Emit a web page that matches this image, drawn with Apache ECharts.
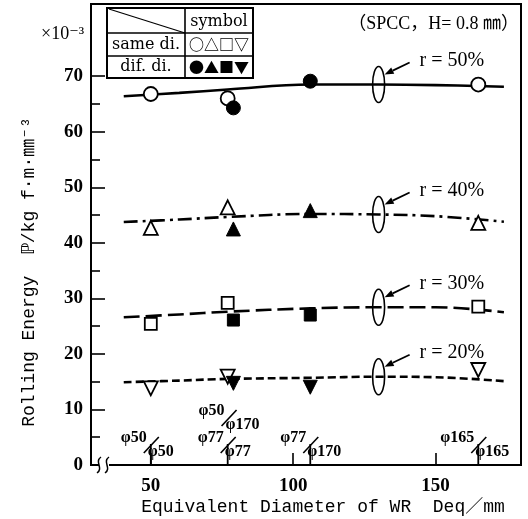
<!DOCTYPE html>
<html><head><meta charset="utf-8">
<script src="https://cdn.jsdelivr.net/npm/echarts@6/dist/echarts.min.js"></script>
<style>html,body{margin:0;padding:0;background:#fff}#c{width:528px;height:519px}</style>
</head><body><div id="c"></div>
<script>
// ---- data ----
const xTickValues = [50, 100, 150];
const yTickValues = [0, 10, 20, 30, 40, 50, 60, 70];
const yMinorTickValues = [5, 15, 25, 35, 45, 55, 65];

const deqSame = [50, 77, 165];
const deqDif = [79, 106];

const r50Same = [66.8, 66.0, 68.5];
const r50Dif = [64.3, 69.1];
const r40Same = [42.7, 46.4, 43.6];
const r40Dif = [42.5, 45.8];
const r30Same = [25.4, 29.2, 28.5];
const r30Dif = [26.1, 27.0];
const r20Same = [13.8, 15.9, 17.1];
const r20Dif = [14.7, 14.0];

const lineDeq = [40.5, 60, 77, 106, 130, 150, 174];
const r50Line = [66.4, 67.0, 67.6, 68.5, 68.5, 68.4, 68.1];
const r40Line = [43.75, 44.2, 44.65, 45.2, 45.1, 44.8, 43.8];
const r30Line = [26.6, 27.1, 27.6, 28.2, 28.4, 28.4, 27.5];
const r20Line = [14.9, 15.2, 15.5, 15.7, 15.9, 15.8, 15.1];

const rLabels = ['r = 50%', 'r = 40%', 'r = 30%', 'r = 20%'];
const loopDeq = 130;

const diamDeq = [50, 77, 77.3, 106, 165];
const diamUpper = ['φ50', 'φ77', 'φ50', 'φ77', 'φ165'];
const diamLower = ['φ50', 'φ77', 'φ170', 'φ170', 'φ165'];

const legendHeader = 'symbol';
const legendRows = ['same di.', 'dif. di.'];
const legendSymbols = ['○△□▽', '●▲■▼'];

const titleText = '（SPCC，H= 0.8 ㎜）';
const unitText = '×10⁻³';
const xName = 'Equivalent Diameter of WR  Deq／mm';
const yName = 'Rolling Energy  ℙ/kg f·m·㎜⁻³';

// ---- chart ----
const serif = "'Liberation Serif','DejaVu Serif','Noto Sans CJK JP',serif";
const mono = "'Liberation Mono','DejaVu Sans Mono','Noto Sans CJK JP',monospace";

const lineSets = [
  {vals: r50Line, type: 'solid'},
  {vals: r40Line, type: [14, 5, 3, 5]},
  {vals: r30Line, type: [16, 6]},
  {vals: r20Line, type: [8, 4]}
];
const markSets = [
  {same: r50Same, dif: r50Dif, symbol: 'circle', size: 14, rot: 0},
  {same: r40Same, dif: r40Dif, symbol: 'triangle', size: 14, rot: 0},
  {same: r30Same, dif: r30Dif, symbol: 'rect', size: 12, rot: 0},
  {same: r20Same, dif: r20Dif, symbol: 'triangle', size: 14, rot: 180}
];

const series = [];
lineSets.forEach(ls => {
  series.push({
    type: 'line', data: lineDeq.map((x, i) => [x, ls.vals[i]]),
    smooth: 0.4, showSymbol: false, silent: true, z: 2,
    lineStyle: {color: '#000', width: 2.6, type: ls.type}
  });
});
markSets.forEach(ms => {
  series.push({
    type: 'scatter', data: deqSame.map((x, i) => [x, ms.same[i]]),
    symbol: ms.symbol, symbolSize: ms.size, symbolRotate: ms.rot, z: 4,
    itemStyle: {color: '#fff', borderColor: '#000', borderWidth: 1.8, opacity: 1}
  });
  series.push({
    type: 'scatter', data: deqDif.map((x, i) => [x, ms.dif[i]]),
    symbol: ms.symbol, symbolSize: ms.size, symbolRotate: ms.rot, z: 4,
    itemStyle: {color: '#000', borderColor: '#000', borderWidth: 1, opacity: 1}
  });
});

const option = {
  backgroundColor: '#fff',
  animation: false,
  grid: {left: 91, right: 7, top: 4, bottom: 54, show: true, borderColor: '#000', borderWidth: 2,
         containLabel: false, outerBoundsMode: 'none'},
  xAxis: {
    type: 'value', min: 29, max: 180,
    axisLine: {show: true, lineStyle: {color: '#000', width: 2}},
    axisTick: {show: true, inside: true, length: 12, customValues: xTickValues, lineStyle: {color: '#000', width: 1.6}},
    axisLabel: {show: true, customValues: xTickValues, margin: 12, color: '#000',
                fontFamily: serif, fontSize: 19, fontWeight: 'bold'},
    splitLine: {show: false}
  },
  yAxis: [{
    type: 'value', min: 0, max: 83,
    axisLine: {show: true, lineStyle: {color: '#000', width: 2}},
    axisTick: {show: true, inside: true, length: 14, customValues: yTickValues, lineStyle: {color: '#000', width: 1.6}},
    axisLabel: {show: true, customValues: yTickValues, margin: 8, color: '#000',
                fontFamily: serif, fontSize: 19, fontWeight: 'bold'},
    splitLine: {show: false}
  }, {
    type: 'value', min: 0, max: 83, position: 'left',
    axisLine: {show: false},
    axisTick: {show: true, inside: true, length: 9, customValues: yMinorTickValues, lineStyle: {color: '#000', width: 1.6}},
    axisLabel: {show: false},
    splitLine: {show: false}
  }],
  series: series
};

const chart = echarts.init(document.getElementById('c'), null, {renderer: 'canvas'});
chart.setOption(option);

const px = (x, y) => chart.convertToPixel({gridIndex: 0}, [x, y]);
const g = [];
const stroke = (lw) => ({fill: null, stroke: '#000', lineWidth: lw});

// r-line annotations: loop, arrow and label
const loopIdx = lineDeq.indexOf(loopDeq);
lineSets.forEach((ls, i) => {
  const [cx, cy] = px(loopDeq, ls.vals[loopIdx]);
  g.push({type: 'ellipse', shape: {cx: cx, cy: cy, rx: 6, ry: 18}, style: stroke(1.6), z: 10});
  const tail = [cx + 31, cy - 22], tip = [cx + 6, cy - 10];
  const dx = tip[0] - tail[0], dy = tip[1] - tail[1], len = Math.hypot(dx, dy);
  const ux = dx / len, uy = dy / len, nx = -uy, ny = ux;
  const bx = tip[0] - ux * 9, by = tip[1] - uy * 9;
  g.push({type: 'line', shape: {x1: tail[0], y1: tail[1], x2: bx, y2: by}, style: stroke(1.8), z: 10});
  g.push({type: 'polygon', shape: {points: [tip, [bx + nx * 3.5, by + ny * 3.5], [bx - nx * 3.5, by - ny * 3.5]]},
          style: {fill: '#000'}, z: 10});
  g.push({type: 'text', x: cx + 41, y: cy - 24, z: 10,
          style: {text: rLabels[i], fill: '#000', font: "20px " + serif, align: 'left', verticalAlign: 'middle'}});
});

// diameter annotations near the x axis
diamDeq.forEach((d, i) => {
  let level = 0;
  for (let j = 0; j < i; j++) if (Math.abs(diamDeq[j] - d) < 3) level++;
  const [x0, ay] = px(d, 0);
  const base = ay - 27 * level;
  if (level === 0) {
    g.push({type: 'line', shape: {x1: x0, y1: ay, x2: x0, y2: ay - 21}, style: stroke(1.8), z: 10});
  }
  g.push({type: 'line', shape: {x1: x0 - 7, y1: base - 12, x2: x0 + 8, y2: base - 28}, style: stroke(1.6), z: 10});
  g.push({type: 'text', x: x0 - 4, y: base - 27, z: 10,
          style: {text: diamUpper[i], fill: '#000', font: "bold 16px " + serif, align: 'right', verticalAlign: 'middle'}});
  g.push({type: 'text', x: x0 - 3, y: base - 13, z: 10,
          style: {text: diamLower[i], fill: '#000', font: "bold 16px " + serif, align: 'left', verticalAlign: 'middle'}});
});

// axis break mark
{
  const [ax, ay] = px(29, 0);
  g.push({type: 'rect', shape: {x: ax + 8, y: ay - 2, width: 10, height: 4}, style: {fill: '#fff'}, z: 11});
  [ax + 8, ax + 16].forEach(bx => {
    g.push({type: 'bezierCurve', shape: {x1: bx - 2, y1: ay + 8, cpx1: bx + 5, cpy1: ay + 3, cpx2: bx - 5, cpy2: ay - 3, x2: bx + 2, y2: ay - 8},
            style: stroke(1.5), z: 12});
  });
}

// legend table
const T = {x: 107, y: 8, w: 146, h: 70, col: 185, r1: 33, r2: 56};
g.push({type: 'rect', shape: {x: T.x, y: T.y, width: T.w, height: T.h}, style: {fill: '#fff', stroke: '#000', lineWidth: 2}, z: 20});
g.push({type: 'line', shape: {x1: T.col, y1: T.y, x2: T.col, y2: T.y + T.h}, style: stroke(1.6), z: 21});
g.push({type: 'line', shape: {x1: T.x, y1: T.r1, x2: T.x + T.w, y2: T.r1}, style: stroke(1.6), z: 21});
g.push({type: 'line', shape: {x1: T.x, y1: T.r2, x2: T.x + T.w, y2: T.r2}, style: stroke(1.6), z: 21});
g.push({type: 'line', shape: {x1: T.x + 2, y1: T.y + 1, x2: T.col, y2: T.r1}, style: stroke(1.2), z: 21});
const tcell = (text, cx, cy, font) => g.push({type: 'text', x: cx, y: cy, z: 22,
  style: {text: text, fill: '#000', font: font, align: 'center', verticalAlign: 'middle'}});
tcell(legendHeader, (T.col + T.x + T.w) / 2, (T.y + T.r1) / 2 + 1, "16px 'DejaVu Serif',serif");
tcell(legendRows[0], (T.x + T.col) / 2, (T.r1 + T.r2) / 2, "16px 'DejaVu Serif',serif");
tcell(legendRows[1], (T.x + T.col) / 2, (T.r2 + T.y + T.h) / 2, "16px 'DejaVu Serif',serif");
tcell(legendSymbols[0], (T.col + T.x + T.w) / 2, (T.r1 + T.r2) / 2, "bold 15px 'Noto Sans CJK JP',sans-serif");
tcell(legendSymbols[1], (T.col + T.x + T.w) / 2, (T.r2 + T.y + T.h) / 2, "15px 'Noto Sans CJK JP',sans-serif");

// texts: title, unit, axis names
g.push({type: 'text', x: 519, y: 24, z: 10,
        style: {text: titleText, fill: '#000', font: "18px " + serif, align: 'right', verticalAlign: 'middle'}});
g.push({type: 'text', x: 41, y: 34, z: 10,
        style: {text: unitText, fill: '#000', font: "18px " + serif, align: 'left', verticalAlign: 'middle'}});
g.push({type: 'text', x: 323, y: 507, z: 10,
        style: {text: xName, fill: '#000', font: "18px " + mono, align: 'center', verticalAlign: 'middle'}});
g.push({type: 'text', x: 29, y: 272, rotation: Math.PI / 2, z: 10,
        style: {text: yName, fill: '#000', font: "18px " + mono, align: 'center', verticalAlign: 'middle'}});

chart.setOption({graphic: g});
</script>
</body></html>
